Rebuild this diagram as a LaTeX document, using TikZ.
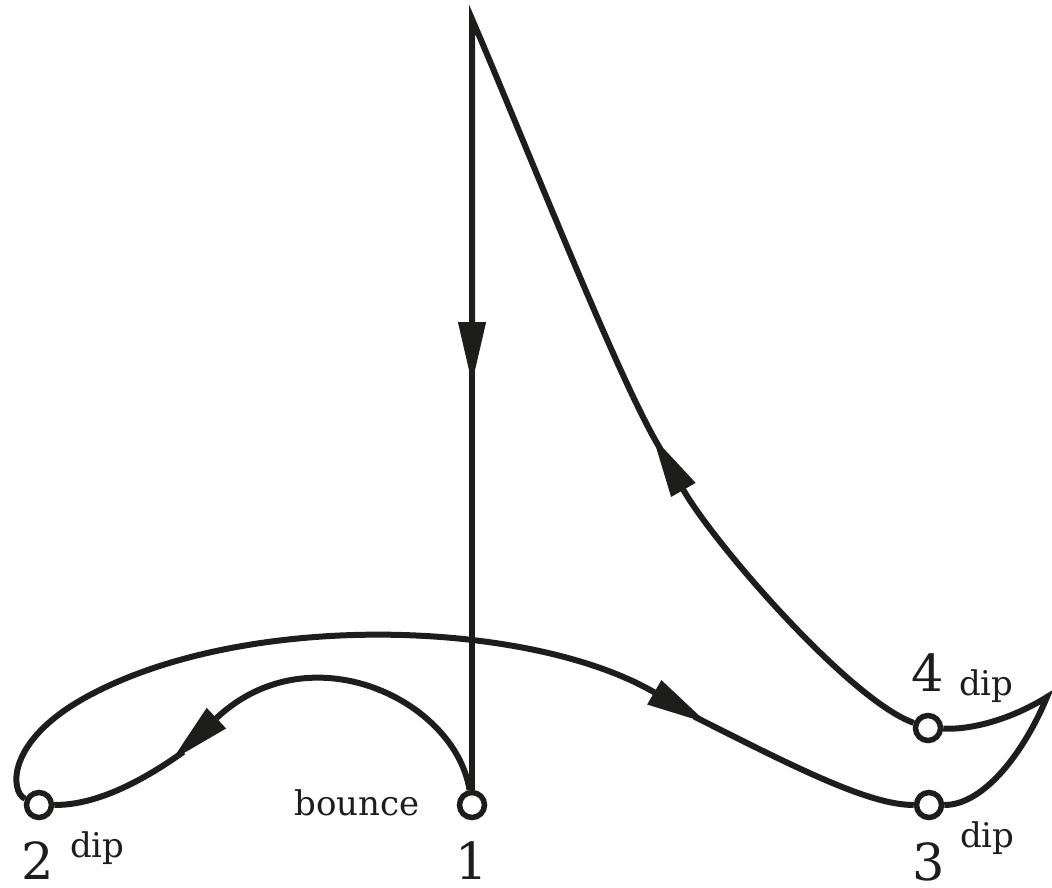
\documentclass[tikz,border=0pt]{standalone}
\usepackage{fontspec}
\setmainfont{DejaVu Serif}
\usetikzlibrary{arrows.meta}
\definecolor{ink}{RGB}{29,30,28}
\tikzset{
  track/.style={draw=ink, line width=6pt},
  after/.style={track, shorten <=-14pt},
  dart/.style={-{Triangle[length=61pt,width=28pt,line width=1pt]}},
  stop/.style={circle, draw=ink, line width=5.5pt, fill=white, minimum size=25pt, inner sep=0pt},
  num/.style={text=ink, font=\fontsize{51}{58}\selectfont, inner sep=0pt, text depth=0pt, anchor=base},
  tag/.style={text=ink, font=\fontsize{34}{40}\selectfont, inner sep=0pt, anchor=base west}
}
\begin{document}
\begin{tikzpicture}[x=1pt, y=-1pt]
    \useasboundingbox (0,0) rectangle (1052,888);
    % paradas
    \node[stop] (p1) at (472,805) {};
    \node[stop] (p2) at (39,805) {};
    \node[stop] (p3) at (929,805) {};
    \node[stop] (p4) at (928,728) {};
    \coordinate (top) at (472,19);
    \coordinate (cusp) at (1047,697);
    % puntas de flecha
    \coordinate (tipA) at (472,383);
    \coordinate (tipB) at (172,760);
    \coordinate (tipC) at (707,723);
    \coordinate (tipE) at (653,437);

    % caida y rebote
    \draw[after, dart] (tipE) .. controls (620,384) and (520,130) .. (top) -- (tipA);
    \draw[after] (tipA) -- (p1);
    \draw[track, dart] (p1) .. controls (455,700) and (310,630) .. (tipB);
    \draw[after] (tipB) .. controls (120,797) and (80,805) .. (p2);
    % lazo grande
    \draw[track, dart] (p2) .. controls (10,792) and (5,740) .. (90,695)
        .. controls (250,610) and (530,620) .. (tipC);
    \draw[after] (tipC) .. controls (800,770) and (870,805) .. (p3);
    % cuspide y subida
    \draw[track] (p3) .. controls (985,805) and (1025,750) .. (cusp)
        .. controls (1015,717) and (975,730) .. (p4);
    \draw[track, dart] (p4) .. controls (850,700) and (715,545) .. (tipE);

    % etiquetas
    \node[num] (n1) at (472,879) {1};
    \node[num] (n2) at (38,879) {2};
    \node[num] (n3) at (929,880) {3};
    \node[num] (n4) at (928,691) {4};
    \node[tag] (d2) at (70,857) {dip};
    \node[tag] (d3) at (960,847) {dip};
    \node[tag] (d4) at (959,695) {dip};
    \node[tag, anchor=base east] (b1) at (420,815) {bounce};
\end{tikzpicture}
\end{document}
